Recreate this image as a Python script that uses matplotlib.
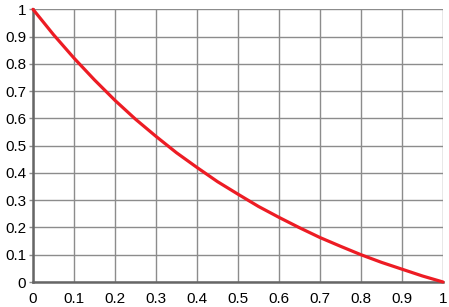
import matplotlib
matplotlib.use("Agg")
import matplotlib.pyplot as plt

x_vals = [0.0, 0.05, 0.1, 0.15, 0.2, 0.25, 0.3, 0.35, 0.4, 0.45, 0.5,
          0.55, 0.6, 0.65, 0.7, 0.75, 0.8, 0.85, 0.9, 0.95, 1.0]
y_vals = [1.0, 0.907, 0.821, 0.741, 0.666, 0.597, 0.534, 0.474, 0.420, 0.368, 0.322,
          0.277, 0.237, 0.199, 0.163, 0.131, 0.100, 0.072, 0.047, 0.022, 0.0]
ticks = [0, 0.1, 0.2, 0.3, 0.4, 0.5, 0.6, 0.7, 0.8, 0.9, 1]
tick_labels = ["0", "0.1", "0.2", "0.3", "0.4", "0.5", "0.6", "0.7", "0.8", "0.9", "1"]

plt.rcParams['font.family'] = ['Liberation Sans', 'DejaVu Sans']

fig = plt.figure(figsize=(4.49, 3.07), dpi=100)
ax = fig.add_axes([33/449, 25/307, 410/449, 272.7/307])

ax.plot(x_vals, y_vals, color="#ed1c24", lw=2.3, solid_capstyle="round", zorder=3, clip_on=False)

ax.set_xlim(0, 1)
ax.set_ylim(0, 1)
ax.set_xticks(ticks)
ax.set_xticklabels(tick_labels)
ax.set_yticks(ticks)
ax.set_yticklabels(tick_labels)
ax.grid(True, color="#8c8c8c", lw=1.0)
ax.set_axisbelow(True)

for s in ["top", "right"]:
    ax.spines[s].set_visible(False)
for s in ["left", "bottom"]:
    ax.spines[s].set_color("#666666")
    ax.spines[s].set_linewidth(1.8)

ax.tick_params(axis="y", length=3, width=1.0, color="#8c8c8c", pad=2, labelsize=11)
ax.tick_params(axis="x", length=0, pad=7, labelsize=11)

fig.savefig("out.png", dpi=100)
